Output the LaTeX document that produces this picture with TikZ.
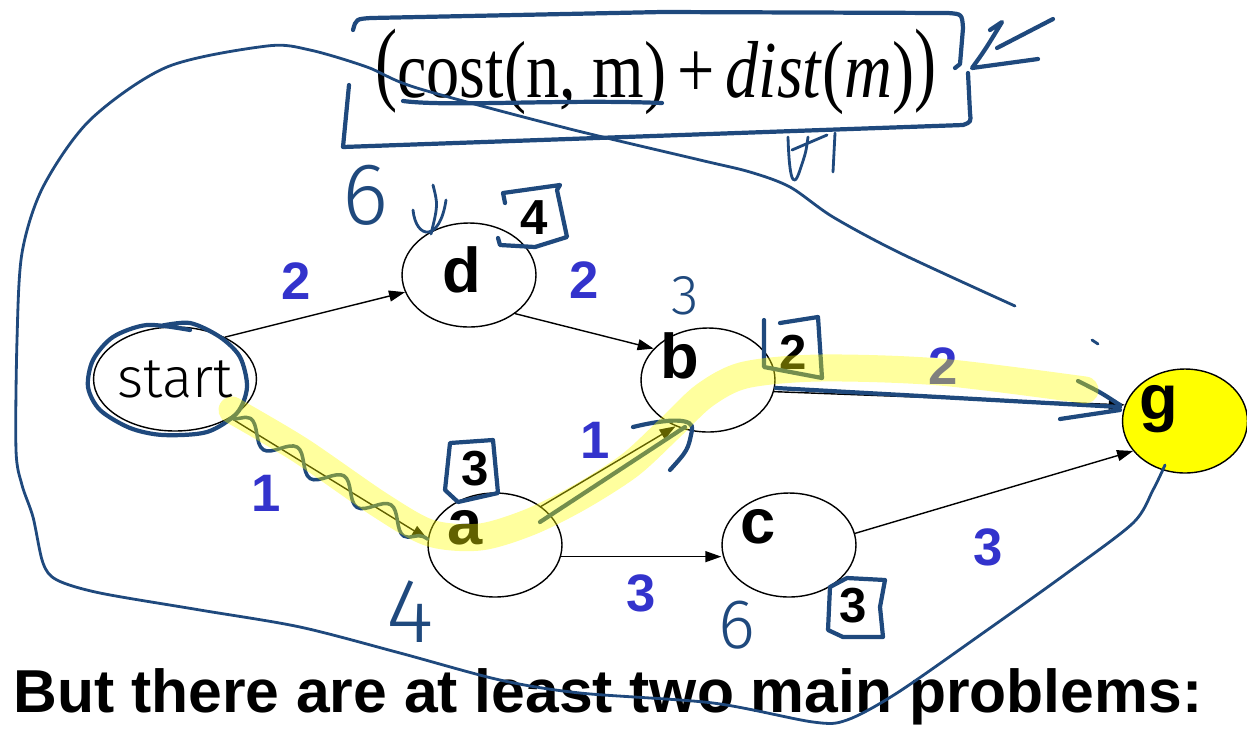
\documentclass[tikz,border=0pt]{standalone}
\usepackage{fontspec}
\setmainfont{Liberation Sans}
\newfontfamily\formfont{Liberation Serif}
\newfontfamily\handfont{Fira Sans Light}
\usetikzlibrary{arrows.meta,shapes.geometric,decorations.pathmorphing}
\definecolor{ink}{RGB}{31,73,125}
\definecolor{weight}{RGB}{51,51,204}
\definecolor{hilite}{RGB}{255,255,0}

\begin{document}
\begin{tikzpicture}[x=0.02cm,y=-0.02cm,
    every node/.style={inner sep=0pt},
    state/.style={ellipse,draw,line width=0.8pt,minimum width=2.68cm,minimum height=2.08cm},
    letter/.style={font=\fontsize{36}{40}\selectfont\bfseries},
    cost/.style={font=\fontsize{30}{34}\selectfont\bfseries,text=weight},
    hval/.style={font=\fontsize{28}{32}\selectfont\bfseries},
    edge/.style={line width=0.8pt,-{Triangle[length=0.32cm,width=0.22cm]}},
    pen/.style={ink,line width=1.6pt,line cap=round,line join=round},
    bigpen/.style={ink,line width=2.4pt,line cap=round,line join=round},
    scrawl/.style={font=\fontsize{#1}{#1}\selectfont\handfont,text=ink}]
  \useasboundingbox (0,0) rectangle (1247,728);

  % search graph
  \node[state] (start) at (175,379) {\fontsize{32}{34}\selectfont\handfont start};
  \node[state] (d) at (469,275) {};
  \node[state] (b) at (708,380) {};
  \node[state] (a) at (495,545) {};
  \node[state] (c) at (789,545) {};
  \node[state,fill=hilite,minimum width=2.5cm] (g) at (1185,421) {};
  \node[letter] (dl) at (462,270) {d};
  \node[letter] (bl) at (680,356) {b};
  \node[letter] (al) at (465,528) {a};
  \node[letter] (cl) at (758,527) {c};
  \node[letter] (gl) at (1159,409) {g};

  \draw[edge] (start.40) -- (d.195);
  \draw[edge] (d.-40) -- (b.150);
  \draw[edge] (start.-35) -- (a.175);
  \draw[edge] (a.40) -- (b.235);
  \draw[edge] (a.-10) -- (a.-10 -| c.west);
  \draw[edge] (b.-10) -- (g.165);
  \draw[edge] (c.10) -- (g.210);

  % edge costs
  \node[cost] (sd) at (296,281) {2};
  \node[cost] (db) at (584,280) {2};
  \node[cost] (sa) at (266,493) {1};
  \node[cost] (ab) at (595,440) {1};
  \node[cost] (ac) at (641,593) {3};
  \node[cost] (bg) at (943,366) {2};
  \node[cost] (cg) at (988,547) {3};

  % heuristic values
  \node[hval] (hd) at (534,218) {4};
  \node[hval] (hb) at (793,352) {2};
  \node[hval] (ha) at (475,469) {3};
  \node[hval] (hc) at (853,606) {3};

  \node[anchor=base] (formula) at (656,97) {\scalebox{0.82}[1]{\formfont\fontsize{46}{52}\selectfont
    \raisebox{0.08cm}{\scalebox{1}[1.15]{(}}cost(n, m)\,+\,\textit{dist}(\textit{m})\raisebox{0.08cm}{\scalebox{1}[1.15]{)}}}};
  \node[anchor=base west,font=\fontsize{34.5}{40}\selectfont\bfseries] (problems) at (13,712)
    {But there are at least two main problems:};

  % pen annotations
  \node[scrawl=50] (sixd) at (366,195) {6};
  \node[scrawl=32] (threeb) at (685,296) {3};
  \node[scrawl=52] (foura) at (410,612) {4};
  \node[scrawl=40] (sixc) at (737,625) {6};

  \draw[bigpen] (349,85) -- (343,147) -- (963,125) .. controls (971,122) .. (970,113) -- (968,73);
  \draw[bigpen] (955,68) -- (960,64) -- (963,28) .. controls (962,14) .. (948,13) -- (662,12)
    -- (371,18) .. controls (356,19) .. (353,30);
  \draw[bigpen] (403,101) .. controls (450,107) and (560,99) .. (662,103);
  \draw[bigpen] (1038,59) -- (972,68) .. controls (985,50) .. (1002,22) -- (990,30);
  \draw[bigpen] (997,48) -- (1053,19);
  \draw[pen] (788,137) .. controls (789,170) and (792,195) .. (800,170) .. controls (806,152) .. (808,137);
  \draw[pen] (792,150) -- (827,135);
  \draw[pen] (835,133) -- (833,172);
  \draw[pen] (433,185) .. controls (438,205) .. (431,234);
  \draw[pen] (413,210) .. controls (416,240) and (440,242) .. (446,200);
  \draw[pen] (1092,340) -- (1098,344);

  \draw[bigpen] (505,203) -- (503,193) -- (560,185) -- (557,190) -- (567,237) -- (535,247) -- (500,245) -- (498,238);
  \draw[bigpen] (780,323) -- (818,317) -- (822,378) -- (764,367) -- (764,320);
  \draw[bigpen] (493,440) -- (450,443) -- (445,490) -- (458,502) -- (498,493) -- (493,440);
  \draw[bigpen] (830,587) -- (847,578) -- (885,580) -- (880,607) -- (883,637) -- (843,637) -- (828,630) -- (830,587);

  \draw[bigpen] plot[smooth] coordinates {(190,330) (147,325) (113,337) (93,360) (88,387) (100,410)
    (130,428) (163,435) (207,432) (237,413) (247,387) (240,357) (220,337) (190,323) (160,326)};
  \draw[pen] plot[smooth] coordinates {(1015,306) (900,253) (833,217) (790,187) (750,172) (700,160)
    (566,128) (417,88) (367,67) (310,50) (267,46) (167,67) (90,120) (43,187) (22,253) (17,340)
    (16,450) (22,485) (33,517) (43,563) (57,580) (100,593) (200,610) (300,627) (400,653)
    (500,680) (580,693) (713,703) (813,722) (847,720) (897,693) (983,633) (1067,573)
    (1133,523) (1153,490) (1165,465)};

  \draw[pen,line width=2pt,decorate,decoration={snake,amplitude=0.2cm,segment length=1.1cm}]
    (start.-35) -- (a.175);
  \draw[bigpen] (540,522) -- (685,427);
  \draw[bigpen] (633,427) .. controls (670,418) and (695,418) .. (692,430) .. controls (688,450) .. (670,470);
  \draw[bigpen] (776,388) -- (1120,407);
  \draw[bigpen] (1078,381) .. controls (1100,392) .. (1120,405);
  \draw[bigpen] (1060,419) -- (1120,410);

  % highlighted path
  \draw[hilite,opacity=0.38,line width=0.54cm,line cap=round] plot[smooth] coordinates {(232,410)
    (300,450) (380,505) (430,533) (480,537) (530,522) (580,497) (630,465) (670,428) (705,395)
    (745,375) (820,368) (940,372) (1085,390)};
\end{tikzpicture}
\end{document}
